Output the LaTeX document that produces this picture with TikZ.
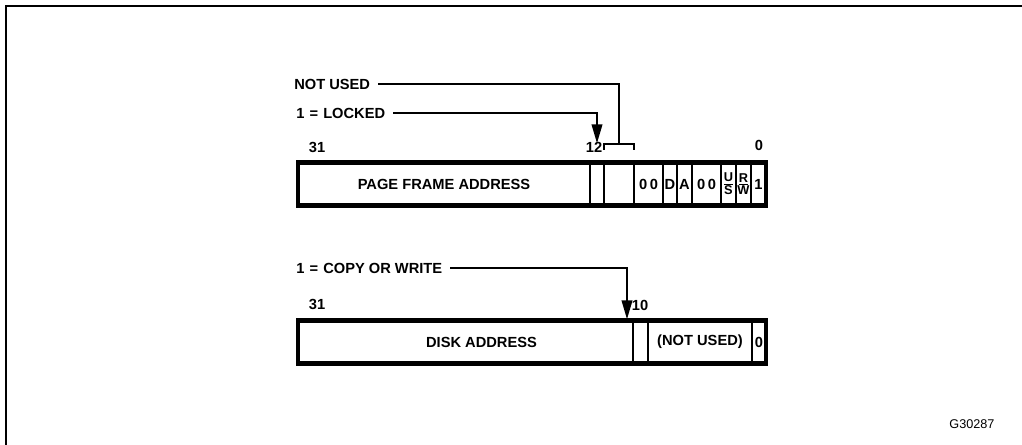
\documentclass[tikz,border=0pt]{standalone}
\usepackage{fontspec}
\setmainfont{Liberation Sans}
\usetikzlibrary{arrows.meta}
\begin{document}
\begin{tikzpicture}[x=0.75pt,y=-0.75pt,
  lbl/.style={font=\fontsize{11}{12}\selectfont\bfseries, inner sep=0pt},
  cell/.style={draw, line width=1.3pt, minimum height=32.25pt, inner sep=0pt, outer sep=0pt,
    anchor=west, font=\fontsize{11}{12}\selectfont\bfseries},
  small/.style={align=center, font=\fontsize{9.6}{9.6}\selectfont\bfseries},
  cw/.style={minimum width={#1*0.75pt}},
  lead/.style={line width=1.1pt},
  arr/.style={lead, -{Triangle[length=14pt,width=8pt]}},
  regframe/.style={line width=3.4pt},
  brkline/.style={line width=1.4pt}
]
\useasboundingbox (0,0) rectangle (1022,445);
\draw[line width=2.2pt] (6,445) -- (6,6) -- (1022,6);

% register 1: page table entry
\node[cell, cw=292] (pfa) at (298,184) {PAGE FRAME ADDRESS};
\node[cell, cw=14] (b12) at (pfa.east) {};
\node[cell, cw=30] (nu) at (b12.east) {};
\node[cell, cw=29] (z1) at (nu.east) {0\hspace{2pt}0};
\node[cell, cw=14] (d) at (z1.east) {D};
\node[cell, cw=15] (a) at (d.east) {A};
\node[cell, cw=29] (z2) at (a.east) {0\hspace{2pt}0};
\node[cell, cw=15, small] (us) at (z2.east) {\underline{U}\\S};
\node[cell, cw=15, small] (rw) at (us.east) {\underline{R}\\W};
\node[cell, cw=15] (p) at (rw.east) {1};
\draw[regframe] (pfa.north west) rectangle (p.south east);

\node[lbl] (n31a) at (317,147) {31};
\node[lbl] (n12) at (594,147) {12};
\node[lbl] (n0a) at (759,145) {0};

\node[lbl, anchor=west] (tnu) at (294,84) {NOT USED};
\node[lbl, anchor=west] (tlk) at (296,113) {1\hspace{0.35em}=\hspace{0.35em}LOCKED};

\draw[brkline] ([yshift=9.5pt]nu.north west) -- ([yshift=13.9pt]nu.north west)
  -- ([yshift=13.9pt]nu.north east) -- ([yshift=9.5pt]nu.north east);
\coordinate (brk) at ([yshift=13.9pt]nu.north);
\draw[lead] ([xshift=6pt]tnu.east) -| (brk);
\coordinate (lkt) at ([yshift=14.5pt]b12.north);
\draw[arr] ([xshift=6pt]tlk.east) -| (lkt);

% register 2: disk address entry
\node[cell, cw=335] (da) at (298,342) {\hspace*{24pt}DISK ADDRESS};
\node[cell, cw=15] (b10) at (da.east) {};
\node[cell, cw=104] (nu2) at (b10.east) {(NOT USED)};
\node[cell, cw=14] (z) at (nu2.east) {0};
\draw[regframe] (da.north west) rectangle (z.south east);

\node[lbl] (n31b) at (317,304) {31};
\node[lbl] (n10) at (640,305) {10};

\node[lbl, anchor=west] (tcw) at (296,268) {1\hspace{0.35em}=\hspace{0.35em}COPY OR WRITE};
\coordinate (cwt) at ([xshift=-4.5pt,yshift=1pt]b10.north west);
\draw[arr] ([xshift=6pt]tcw.east) -| (cwt);

\node[font=\fontsize{9.5}{11}\selectfont] (gid) at (972,424) {G30287};
\end{tikzpicture}
\end{document}
